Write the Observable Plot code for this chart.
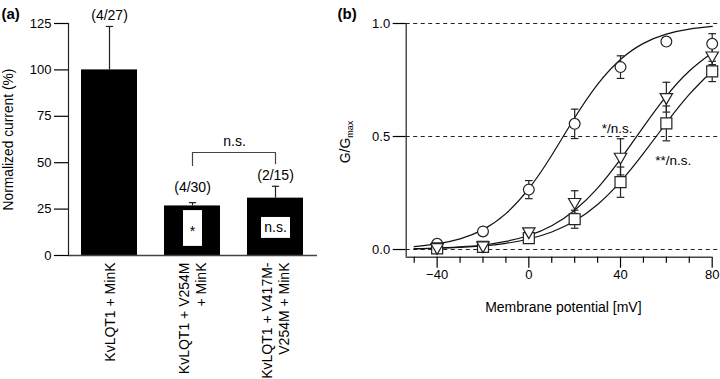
<!DOCTYPE html>
<html><head><meta charset="utf-8">
<script src="https://cdn.jsdelivr.net/npm/d3@7"></script>
<script src="https://cdn.jsdelivr.net/npm/@observablehq/plot@0.6"></script>
<style>
body{margin:0;background:#fff;}
#wrap{position:relative;width:720px;height:379px;overflow:hidden;background:#fff;}
#a{position:absolute;left:0;top:0;}
#b{position:absolute;left:330px;top:0;}
</style></head><body><div id="wrap"><div id="a"></div><div id="b"></div></div>
<script>
const FONT = '"Liberation Sans", Arial, Helvetica, sans-serif';

// ---------- Panel (a) data ----------
const categories = ["KvLQT1 + MinK", "KvLQT1 + V254M\n+ MinK", "KvLQT1 + V417M-\nV254M + MinK"];
const current = [100, 26.7, 30.9];
const currentErr = [23.4, 1.8, 6.4];
const nLabels = ["(4/27)", "(4/30)", "(2/15)"];
const boxLow = [null, 4.9, 9.2];
const boxHigh = [null, 24.2, 20.5];
const boxText = ["", "*", "n.s."];
const bracketCats = [categories[1], categories[1], categories[2], categories[2]];
const bracketY = [48.5, 55.5, 55.5, 49.5];
const bracketLabel = "n.s.";
const yTicksA = [0, 25, 50, 75, 100, 125];
const yDomA = [0, 125];

// ---------- Panel (b) data ----------
const voltages = [-40, -20, 0, 20, 40, 60, 80];
const gCircle = [0.025, 0.08, 0.265, 0.556, 0.807, 0.92, 0.91];
const eCircle = [0, 0, 0.04, 0.065, 0.05, 0, 0.045];
const gTriangle = [0.01, 0.018, 0.08, 0.21, 0.41, 0.674, 0.858];
const eTriangle = [0, 0, 0, 0.05, 0.08, 0.066, 0.04];
const gSquare = [0.005, 0.012, 0.05, 0.134, 0.298, 0.558, 0.788];
const eSquare = [0, 0, 0.02, 0.04, 0.067, 0.077, 0.045];
const fitV = [-50, -40, -30, -20, -10, 0, 10, 20, 30, 40, 50, 60, 70, 80];
const fitCircle = [0.013, 0.025, 0.047, 0.088, 0.159, 0.269, 0.417, 0.583, 0.731, 0.841, 0.912, 0.953, 0.975, 0.987];
const fitTriangle = [0.004, 0.0065, 0.012, 0.020, 0.036, 0.062, 0.105, 0.174, 0.272, 0.40, 0.543, 0.679, 0.79, 0.871];
const fitSquare = [0.003, 0.0055, 0.0095, 0.016, 0.0275, 0.0465, 0.0775, 0.126, 0.199, 0.30, 0.425, 0.56, 0.686, 0.79];
const yTicksB = [0, 0.5, 1];
const xMajor = [-40, 0, 40, 80];
const xMinor = [-50, -30, -20, -10, 10, 20, 30, 50, 60, 70];
const xDomB = [-53.5, 80];
const yDomB = [-0.034, 1];
const annText = ["*/n.s.", "**/n.s."];
const annV = [38.5, 63];
const annG = [0.535, 0.395];

// cap symbol for error bars
const capSym = {draw(ctx, size) { const r = Math.sqrt(size / Math.PI); ctx.moveTo(-r, 0); ctx.lineTo(r, 0); }};

// ---------- Panel (a) ----------
const bars = categories.map((c, i) => ({c, v: current[i], e: current[i] + currentErr[i], n: nLabels[i], lo: boxLow[i], hi: boxHigh[i], t: boxText[i]}));
const bracket = bracketCats.map((c, i) => ({c, y: bracketY[i]}));

const plotA = Plot.plot({
  width: 360, height: 379,
  marginLeft: 68, marginRight: 43, marginTop: 23, marginBottom: 124,
  style: {fontFamily: FONT, fontSize: "13px", color: "#000", background: "transparent", overflow: "visible"},
  x: {domain: categories, paddingInner: 0.325, paddingOuter: 0.16, axis: null},
  y: {domain: yDomA, axis: null},
  marks: [
    Plot.ruleX(bars, {x: "c", y1: "v", y2: "e", stroke: "#222", strokeWidth: 1.2}),
    Plot.dot(bars, {x: "c", y: "e", symbol: capSym, r: 3.6, stroke: "#222", fill: "none", strokeWidth: 1.2}),
    Plot.barY(bars, {x: "c", y: "v", fill: "#000"}),
    Plot.barY(bars.filter(d => d.t === "*"), {x: "c", y1: "lo", y2: "hi", fill: "#fff", insetLeft: 19, insetRight: 18}),
    Plot.barY(bars.filter(d => d.t === "n.s."), {x: "c", y1: "lo", y2: "hi", fill: "#fff", insetLeft: 14, insetRight: 13}),
    Plot.text(bars.filter(d => d.t === "*"), {x: "c", y: d => (d.lo + d.hi) / 2, text: "t", fontSize: 14, dy: 3}),
    Plot.text(bars.filter(d => d.t === "n.s."), {x: "c", y: d => (d.lo + d.hi) / 2, text: "t", fontSize: 14}),
    Plot.text(bars.filter((d, i) => i !== 1), {x: "c", y: "e", text: "n", dy: -11, fontSize: 14}),
    Plot.text(bars.filter((d, i) => i === 1), {x: "c", y: "e", text: "n", dy: -15, fontSize: 14}),
    Plot.line(bracket, {x: "c", y: "y", stroke: "#444", strokeWidth: 1.2}),
    Plot.text([bracketLabel], {x: () => categories[1], y: () => bracketY[1], dx: 42, dy: -11, fontSize: 14}),
    Plot.ruleY([0], {stroke: "#444", strokeWidth: 1.5}),
    Plot.frame({anchor: "left", stroke: "#222", strokeWidth: 1.2}),
    Plot.axisY({ticks: yTicksA, tickSize: 14, tickPadding: 3, fontSize: 13, label: null, strokeWidth: 1.2}),
    Plot.text(categories, {x: d => d, frameAnchor: "bottom", dy: 7, rotate: -90, textAnchor: "end", lineAnchor: "middle", fontSize: 14, lineHeight: 1.2}),
    Plot.text(["Normalized current (%)"], {frameAnchor: "left", dx: -60, rotate: -90, textAnchor: "middle", lineAnchor: "middle", fontSize: 13.8}),
    Plot.text(["(a)"], {frameAnchor: "top-left", dx: -67, dy: -9, textAnchor: "start", lineAnchor: "middle", fontWeight: "bold", fontSize: 15})
  ]
});
document.getElementById("a").appendChild(plotA);

// ---------- Panel (b) ----------
const pts = (g, e, s) => voltages.map((v, i) => ({v, g: g[i], lo: g[i] - e[i], hi: g[i] + e[i], e: e[i], s}));
const circles = pts(gCircle, eCircle, "c");
const triangles = pts(gTriangle, eTriangle, "t");
const squares = pts(gSquare, eSquare, "s");
const allPts = [...circles, ...squares, ...triangles].filter(d => d.e > 0);
const fits = [
  ...fitV.map((v, i) => ({v, g: fitCircle[i], s: "c"})),
  ...fitV.map((v, i) => ({v, g: fitTriangle[i], s: "t"})),
  ...fitV.map((v, i) => ({v, g: fitSquare[i], s: "s"}))
];
const ann = annText.map((t, i) => ({t, v: annV[i], g: annG[i]}));

const plotB = Plot.plot({
  width: 390, height: 379,
  marginLeft: 75.7, marginRight: 0, marginTop: 23, marginBottom: 122.3,
  style: {fontFamily: FONT, fontSize: "13px", color: "#000", background: "transparent", overflow: "visible"},
  x: {domain: xDomB, range: [75.7, 381.7], axis: null},
  y: {domain: yDomB, axis: null},
  marks: [
    Plot.ruleY(yTicksB, {stroke: "#222", strokeDasharray: "4,3.5", strokeWidth: 1.1}),
    Plot.line(fits, {x: "v", y: "g", z: "s", curve: "natural", stroke: "#111", strokeWidth: 1.2}),
    Plot.ruleX(allPts, {x: "v", y1: "lo", y2: "hi", stroke: "#222", strokeWidth: 1.2}),
    Plot.dot(allPts, {x: "v", y: "lo", symbol: capSym, r: 3.8, stroke: "#222", fill: "none", strokeWidth: 1.2}),
    Plot.dot(allPts, {x: "v", y: "hi", symbol: capSym, r: 3.8, stroke: "#222", fill: "none", strokeWidth: 1.2}),
    Plot.dot(circles, {x: "v", y: "g", r: 5.4, symbol: "circle", fill: "#fff", stroke: "#222", strokeWidth: 1.2}),
    Plot.dot(squares, {x: "v", y: "g", r: 6.2, symbol: "square", fill: "#fff", stroke: "#222", strokeWidth: 1.2}),
    Plot.dot(triangles, {x: "v", y: "g", r: 4.6, symbol: "triangle", rotate: 180, fill: "#fff", stroke: "#222", strokeWidth: 1.2}),
    Plot.text(ann, {x: "v", y: "g", text: "t", fontSize: 13.5}),
    Plot.ruleX([xDomB[0]], {y1: yDomB[0], y2: yDomB[1], stroke: "#222", strokeWidth: 1.2}),
    Plot.ruleY([yDomB[0]], {x1: xDomB[0], x2: xDomB[1], stroke: "#444", strokeWidth: 1.5}),
    Plot.axisY({ticks: yTicksB, tickSize: 13, tickPadding: 3, fontSize: 13, tickFormat: d3.format(".1f"), label: null, strokeWidth: 1.2}),
    Plot.axisX({ticks: xMajor, tickSize: 11, tickPadding: 2, fontSize: 13, label: null, strokeWidth: 1.2}),
    Plot.axisX({ticks: xMinor, tickSize: 6, tickFormat: () => "", label: null, strokeWidth: 1.2}),
    Plot.text(["Membrane potential [mV]"], {frameAnchor: "bottom", dy: 50, textAnchor: "middle", lineAnchor: "middle", fontSize: 14}),
    Plot.text(["(b)"], {frameAnchor: "top-left", dx: -68.7, dy: -9, textAnchor: "start", lineAnchor: "middle", fontWeight: "bold", fontSize: 15})
  ]
});
document.getElementById("b").appendChild(plotB);

// y label with subscript for panel (b)
const svgB = d3.select(plotB.tagName.toLowerCase() === "svg" ? plotB : plotB.querySelector("svg"));
const lab = svgB.append("text")
  .attr("transform", "translate(20,142) rotate(-90)")
  .attr("text-anchor", "middle")
  .attr("font-family", FONT)
  .attr("font-size", 14)
  .attr("fill", "#000");
lab.append("tspan").text("G/G");
lab.append("tspan").attr("font-size", 9).attr("dy", 3).text("max");
</script>
</body></html>
